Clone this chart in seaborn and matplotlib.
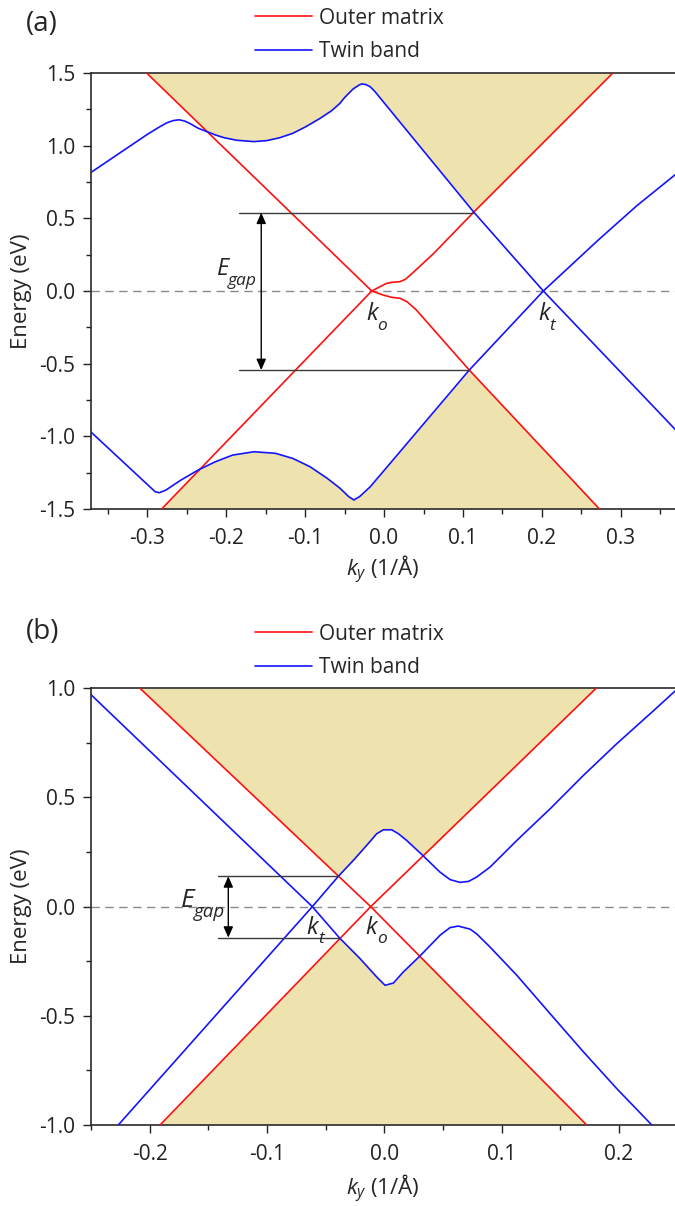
import numpy as np
import pandas as pd
import matplotlib
matplotlib.use("Agg")
import matplotlib.pyplot as plt
from matplotlib.ticker import AutoMinorLocator, FormatStrFormatter
import seaborn as sns

# ---------------- band data, panel (a) ----------------
RED_A_UP_K = [-0.301, -0.0156, -0.005, 0.003, 0.010, 0.020, 0.027, 0.037, 0.063, 0.113, 0.290]
RED_A_UP_E = [1.50, 0.0, 0.030, 0.052, 0.060, 0.064, 0.080, 0.128, 0.259, 0.539, 1.50]
RED_A_LO_K = [-0.282, -0.0156, -0.001, 0.010, 0.020, 0.029, 0.041, 0.108, 0.273]
RED_A_LO_E = [-1.50, 0.0, -0.028, -0.044, -0.050, -0.073, -0.131, -0.544, -1.50]

BLUE_A_UP_K = [-0.372, -0.300, -0.285, -0.275, -0.267, -0.260, -0.253, -0.2466, -0.2357,
               -0.2248, -0.2139, -0.2030, -0.1866, -0.1648, -0.1484, -0.1320, -0.1157,
               -0.0993, -0.0811, -0.0666, -0.0558, -0.0502, -0.0393, -0.0320, -0.0283,
               -0.0230, -0.0177, -0.0120, 0.1132, 0.2019, 0.2716, 0.3200, 0.3690]
BLUE_A_UP_E = [0.814, 1.078, 1.128, 1.158, 1.173, 1.178, 1.170, 1.154, 1.120,
               1.097, 1.074, 1.055, 1.037, 1.028, 1.035, 1.055, 1.085,
               1.130, 1.188, 1.240, 1.292, 1.330, 1.390, 1.416, 1.425,
               1.420, 1.406, 1.375, 0.546, 0.0, 0.351, 0.585, 0.800]
BLUE_A_LO_K = [-0.372, -0.2902, -0.2848, -0.2766, -0.2575, -0.2357, -0.2139, -0.1920,
               -0.1648, -0.1375, -0.1157, -0.0939, -0.0720, -0.0557, -0.0448, -0.0382,
               -0.0311, -0.0175, 0.108, 0.2019, 0.369]
BLUE_A_LO_E = [-0.968, -1.381, -1.388, -1.370, -1.301, -1.232, -1.175, -1.129,
               -1.106, -1.117, -1.152, -1.209, -1.289, -1.358, -1.415, -1.438,
               -1.415, -1.347, -0.544, 0.0, -0.952]

# ---------------- band data, panel (b) ----------------
RED_B_UP_K = [-0.2083, -0.0116, 0.1805]
RED_B_UP_E = [1.0, 0.0, 1.0]
RED_B_LO_K = [-0.1912, -0.0116, 0.1725]
RED_B_LO_E = [-1.0, 0.0, -1.0]

BLUE_B_UP_K = [-0.2503, -0.0614, -0.0392, -0.0264, -0.0150, -0.0065, -0.0008, 0.0063,
               0.0120, 0.0191, 0.0319, 0.0475, 0.0560, 0.0645, 0.0720, 0.0788, 0.0901,
               0.1129, 0.1413, 0.1697, 0.1981, 0.2265, 0.2478]
BLUE_B_UP_E = [0.972, 0.0, 0.139, 0.212, 0.281, 0.334, 0.352, 0.352,
               0.334, 0.303, 0.239, 0.158, 0.124, 0.111, 0.116, 0.136, 0.181,
               0.303, 0.448, 0.601, 0.746, 0.883, 0.987]
BLUE_B_LO_K = [-0.2268, -0.0614, -0.0384, -0.0207, -0.0065, 0.0006, 0.0077, 0.0162,
               0.0304, 0.0475, 0.0560, 0.0630, 0.0731, 0.0788, 0.0901, 0.1129, 0.1413,
               0.1697, 0.1981, 0.2280]
BLUE_B_LO_E = [-1.0, 0.0, -0.142, -0.238, -0.322, -0.360, -0.350, -0.299,
               -0.226, -0.131, -0.096, -0.089, -0.103, -0.125, -0.185, -0.314, -0.490,
               -0.665, -0.833, -1.0]

# gap markers
GAP_A = dict(k0=-0.184, k1_top=0.1132, k1_bot=0.108, e_top=0.539, e_bot=-0.544, k_arrow=-0.1557)
GAP_B = dict(k0=-0.1415, k1_top=-0.0392, k1_bot=-0.0384, e_top=0.139, e_bot=-0.142, k_arrow=-0.133)

SERIES = ["Outer matrix", "Twin band"]
PALETTE = {"Outer matrix": "#FF1010", "Twin band": "#1414FF"}
SHADE = "#EEE2AE"

X_TICKS_A = [-0.3, -0.2, -0.1, 0.0, 0.1, 0.2, 0.3]
Y_TICKS_A = [-1.5, -1.0, -0.5, 0.0, 0.5, 1.0, 1.5]
X_TICKS_B = [-0.2, -0.1, 0.0, 0.1, 0.2]
Y_TICKS_B = [-1.0, -0.5, 0.0, 0.5, 1.0]

sns.set_style("ticks")
plt.rcParams["font.family"] = ["Open Sans", "DejaVu Sans"]
plt.rcParams["mathtext.fontset"] = "custom"
plt.rcParams["mathtext.rm"] = "Open Sans"
plt.rcParams["mathtext.it"] = "Open Sans:italic"
plt.rcParams["axes.unicode_minus"] = False

W, H = 675, 1206
DPI = 100
fig = plt.figure(figsize=(W / DPI, H / DPI), dpi=DPI)
renderer = fig.canvas.get_renderer()


def frac_axes(left, top, right, bottom):
    return fig.add_axes([left / W, 1 - bottom / H, (right - left) / W, (bottom - top) / H])


ax_a = frac_axes(90.6, 73, 675, 509)
ax_b = frac_axes(90.6, 688.3, 675, 1125)


def band_frame(bands):
    rows = []
    for name, (series, ks, es) in bands.items():
        for k, e in zip(ks, es):
            rows.append({"k": k, "E": e, "series": series, "band": name})
    return pd.DataFrame(rows)


def sub_label(ax, x, y, main, sub, size, sub_size, drop_px, gap_px=0.0):
    """Italic symbol with a lowered italic subscript."""
    t = ax.text(x, y, main, fontsize=size, style="italic", ha="left", va="baseline", zorder=6)
    bb = t.get_window_extent(renderer)
    x0 = ax.transData.transform((x, y))[0]
    dx_pt = (bb.x1 - x0 + gap_px) * 72 / DPI
    ax.annotate(sub, xy=(x, y), xycoords="data", xytext=(dx_pt, -drop_px * 72 / DPI),
                textcoords="offset points", fontsize=sub_size, style="italic",
                ha="left", va="baseline", zorder=6)


def draw_panel(ax, red_up, red_lo, blue_up, blue_lo, xlim, ylim, xticks, yticks,
               gap, tag, tag_y, legend_y, egap, ko_pos, kt_pos, xlabel_y):
    ax.set_xlim(*xlim)
    ax.set_ylim(*ylim)

    # shaded continua: above the upper cone, below the lower cone
    kk = np.linspace(red_up[0][0], red_up[0][-1], 3000)
    top_edge = np.maximum(np.interp(kk, *red_up), np.interp(kk, *blue_up))
    ax.fill_between(kk, top_edge, ylim[1], color=SHADE, lw=0, zorder=1)
    kk = np.linspace(red_lo[0][0], red_lo[0][-1], 3000)
    bot_edge = np.minimum(np.interp(kk, *red_lo), np.interp(kk, *blue_lo))
    ax.fill_between(kk, ylim[0], bot_edge, color=SHADE, lw=0, zorder=1)

    df = band_frame({
        "red_up": ("Outer matrix", *red_up),
        "red_lo": ("Outer matrix", *red_lo),
        "blue_up": ("Twin band", *blue_up),
        "blue_lo": ("Twin band", *blue_lo),
    })
    sns.lineplot(data=df, x="k", y="E", hue="series", hue_order=SERIES, units="band",
                 estimator=None, sort=False, palette=PALETTE, linewidth=1.2, ax=ax,
                 zorder=3)
    handles, labels = ax.get_legend_handles_labels()
    ax.get_legend().remove()
    fig.legend(handles, labels, loc="center left", bbox_to_anchor=(255 / W, 1 - legend_y / H),
               frameon=False, fontsize=15, handlelength=2.75, handletextpad=0.3,
               labelspacing=0.62, borderpad=0, borderaxespad=0)

    # Fermi level
    ax.axhline(0, color="#8A8A8A", lw=1.0, ls=(0, (6, 4)), zorder=2)

    # gap markers
    ax.plot([gap["k0"], gap["k1_top"]], [gap["e_top"], gap["e_top"]], color="#3A3A3A", lw=1.0, zorder=4)
    ax.plot([gap["k0"], gap["k1_bot"]], [gap["e_bot"], gap["e_bot"]], color="#3A3A3A", lw=1.0, zorder=4)
    ax.annotate("", xy=(gap["k_arrow"], gap["e_top"]), xytext=(gap["k_arrow"], gap["e_bot"]),
                arrowprops=dict(arrowstyle="<|-|>,head_length=0.5,head_width=0.22",
                                mutation_scale=13, color="black", lw=1.0,
                                shrinkA=0, shrinkB=0), zorder=5)
    sub_label(ax, egap[0], egap[1], "E", "gap", egap[2], egap[3], 10, -1)
    sub_label(ax, ko_pos[0], ko_pos[1], "k", "o", 17, 12.5, 9.5, 0)
    sub_label(ax, kt_pos[0], kt_pos[1], "k", "t", 17, 12.5, 9.5, 0)

    ax.set_xticks(xticks)
    ax.set_yticks(yticks)
    ax.xaxis.set_minor_locator(AutoMinorLocator(2))
    ax.yaxis.set_minor_locator(AutoMinorLocator(2))
    ax.xaxis.set_major_formatter(FormatStrFormatter("%.1f"))
    ax.yaxis.set_major_formatter(FormatStrFormatter("%.1f"))
    ax.tick_params(which="major", direction="out", length=6, width=1.0, labelsize=15,
                   colors="#222222", pad=5)
    ax.tick_params(which="minor", direction="out", length=3.3, width=1.0, colors="#222222")
    ax.tick_params(axis="x", which="major", pad=8)
    for side in ("left", "bottom", "top"):
        ax.spines[side].set_linewidth(1.2)
        ax.spines[side].set_color("#2A2A2A")
    ax.spines["right"].set_visible(False)

    ax.set_xlabel(r"$k_y$ (1/Å)", fontsize=16)
    ax.set_ylabel("Energy (eV)", fontsize=16)
    ax.xaxis.set_label_coords(0.5, xlabel_y)
    ax.yaxis.set_label_coords(-0.100, 0.5)

    fig.text(26 / W, 1 - tag_y / H, tag, fontsize=20, ha="left", va="center")


draw_panel(ax_a, (RED_A_UP_K, RED_A_UP_E), (RED_A_LO_K, RED_A_LO_E),
           (BLUE_A_UP_K, BLUE_A_UP_E), (BLUE_A_LO_K, BLUE_A_LO_E),
           (-0.372, 0.3688), (-1.5, 1.5), X_TICKS_A, Y_TICKS_A, GAP_A,
           "(a)", 24, 35, (-0.212, 0.11, 17, 12.5), (-0.023, -0.20), (0.195, -0.20), -0.104)
draw_panel(ax_b, (RED_B_UP_K, RED_B_UP_E), (RED_B_LO_K, RED_B_LO_E),
           (BLUE_B_UP_K, BLUE_B_UP_E), (BLUE_B_LO_K, BLUE_B_LO_E),
           (-0.2504, 0.2478), (-1.0, 1.0), X_TICKS_B, Y_TICKS_B, GAP_B,
           "(b)", 632, 651, (-0.1735, -0.002, 19, 13.5), (-0.0160, -0.123), (-0.0665, -0.124), -0.110)

fig.savefig("out.png", dpi=DPI)
